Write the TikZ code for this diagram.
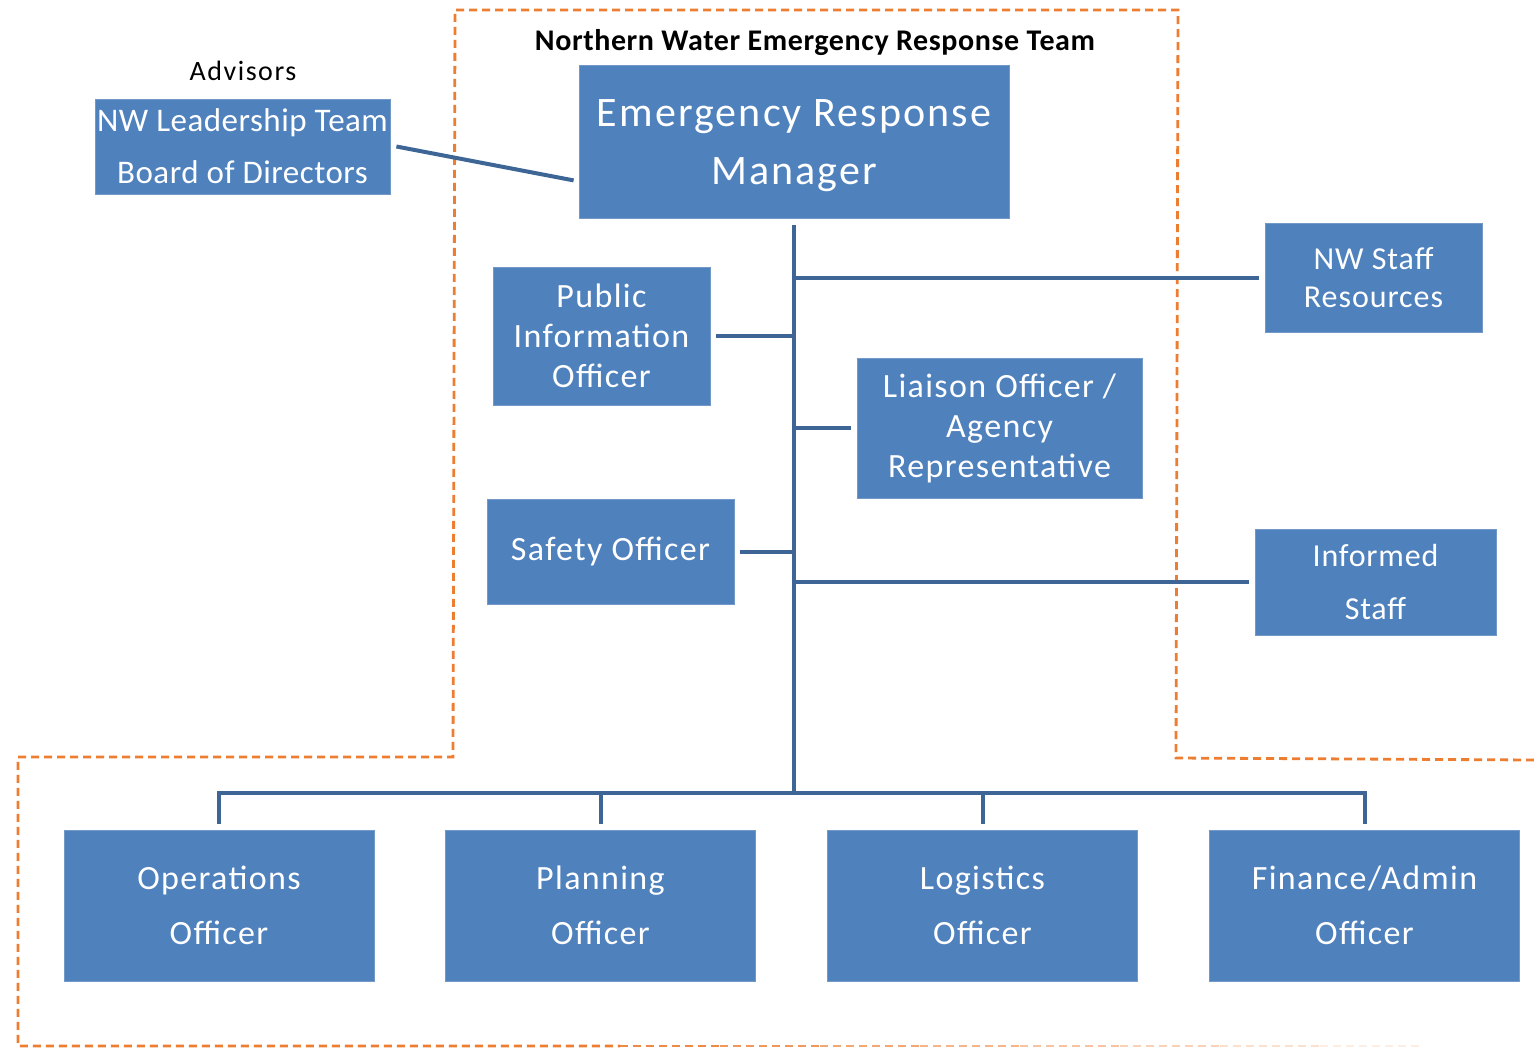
\documentclass[tikz,border=0pt]{standalone}
\usepackage{fontspec}
\setmainfont{Carlito}
\usetikzlibrary{calc}
\definecolor{boxfill}{HTML}{4F81BD}
\definecolor{boxedge}{HTML}{7399C9}
\definecolor{linkc}{HTML}{3D6696}
\definecolor{dashc}{HTML}{ED7D31}
\newcommand{\trk}[1]{\addfontfeatures{LetterSpace=#1}}
\tikzset{
  orgbox/.style={rectangle, fill=boxfill, draw=boxedge, line width=0.4pt, text=white, align=center, inner sep=0pt},
  link/.style={draw=linkc, line width=2pt, line cap=butt, line join=miter},
  border/.style={draw=dashc, line width=1.4pt, dash pattern=on 4pt off 2.5pt},
  caption/.style={text=black, inner sep=0pt},
  midfont/.style={font=\fontsize{17}{20}\selectfont\trk{4}},
  lowfont/.style={font=\fontsize{17}{27.5}\selectfont\trk{4}}
}
\begin{document}
\begin{tikzpicture}[x=0.5pt,y=-0.5pt]
\useasboundingbox (0,0) rectangle (1534,1048);
\fill[white] (0,0) rectangle (1534,1048);

% dashed team boundary
\draw[border] (1534,760) -- (1176,758) -- (1178,10) -- (455,10) -- (453,757) -- (18,757) -- (18,1046) -- (620,1046);
\foreach \i in {0,...,7}{
  \pgfmathsetmacro{\p}{90-\i*11}
  \draw[draw=dashc!\p!white, line width=1.4pt, dash pattern=on 4pt off 2.5pt] (620+\i*100,1046) -- (720+\i*100,1046);
}

% captions
\node[caption, font=\fontsize{14}{16}\selectfont\trk{5.5}] (adv) at (243,71) {Advisors};
\node[caption, font=\bfseries\fontsize{15}{17}\selectfont\trk{2}] (title) at (815,43) {Northern Water Emergency Response Team};

% boxes
\node[orgbox, minimum width=147.5pt, minimum height=47.5pt, font=\fontsize{16.5}{26}\selectfont\trk{1.5}] (nwlt) at (242.5,146.5) {NW Leadership Team\\Board of Directors};
\node[orgbox, minimum width=215pt, minimum height=76.5pt, font=\fontsize{21}{29}\selectfont\trk{5}] (erm) at (794,141.5) {\rule{0pt}{18pt}Emergency Response\\Manager};
\node[orgbox, minimum width=108.5pt, minimum height=54.5pt, font=\fontsize{16}{19}\selectfont\trk{3}] (nwsr) at (1373.5,277.5) {NW Staff\\Resources};
\node[orgbox, minimum width=108.5pt, minimum height=69pt, midfont] (pio) at (601.5,336) {Public\\Information\\Officer};
\node[orgbox, minimum width=142.5pt, minimum height=70pt, midfont] (liaison) at (999.5,428) {Liaison Officer /\\Agency\\Representative};
\node[orgbox, minimum width=123.5pt, minimum height=52.5pt, midfont] (safety) at (610.5,551.5) {Safety Officer};
\node[orgbox, minimum width=120.5pt, minimum height=53pt, font=\fontsize{16}{26}\selectfont\trk{2.5}] (informed) at (1375.5,582) {Informed\\Staff};
\node[orgbox, minimum width=155pt, minimum height=75.5pt, lowfont] (ops) at (219,905.5) {Operations\\Officer};
\node[orgbox, minimum width=155pt, minimum height=75.5pt, lowfont] (plan) at (600.5,905.5) {Planning\\Officer};
\node[orgbox, minimum width=155pt, minimum height=75.5pt, lowfont] (logi) at (982.5,905.5) {Logistics\\Officer};
\node[orgbox, minimum width=155pt, minimum height=75.5pt, lowfont] (fin) at (1364.5,905.5) {Finance/Admin\\Officer};

% connector coordinates
\coordinate (trunktop) at ($(erm.south)+(0,7)$);
\coordinate (bus) at (794,793);
\coordinate (advend) at ($(nwlt.east)+(6,0)$);
\coordinate (ermend) at ($(erm.south west)+(-5,-38)$);

% connectors
\draw[link] (advend) -- (ermend);
\draw[link] (trunktop) -- (bus);
\draw[link] (nwsr.west -| trunktop) -- ($(nwsr.west)+(-6,0)$);
\draw[link] ($(pio.east)+(6,0)$) -- (pio.east -| trunktop);
\draw[link] (liaison.west -| trunktop) -- ($(liaison.west)+(-6,0)$);
\draw[link] ($(safety.east)+(6,0)$) -- (safety.east -| trunktop);
\draw[link] (informed.west -| trunktop) -- ($(informed.west)+(-6,0)$);
\draw[link] ($(ops.north)+(0,-6)$) -- (ops.north |- bus) -- (fin.north |- bus) -- ($(fin.north)+(0,-6)$);
\draw[link] ($(plan.north)+(0,-6)$) -- (plan.north |- bus);
\draw[link] ($(logi.north)+(0,-6)$) -- (logi.north |- bus);
\end{tikzpicture}
\end{document}
